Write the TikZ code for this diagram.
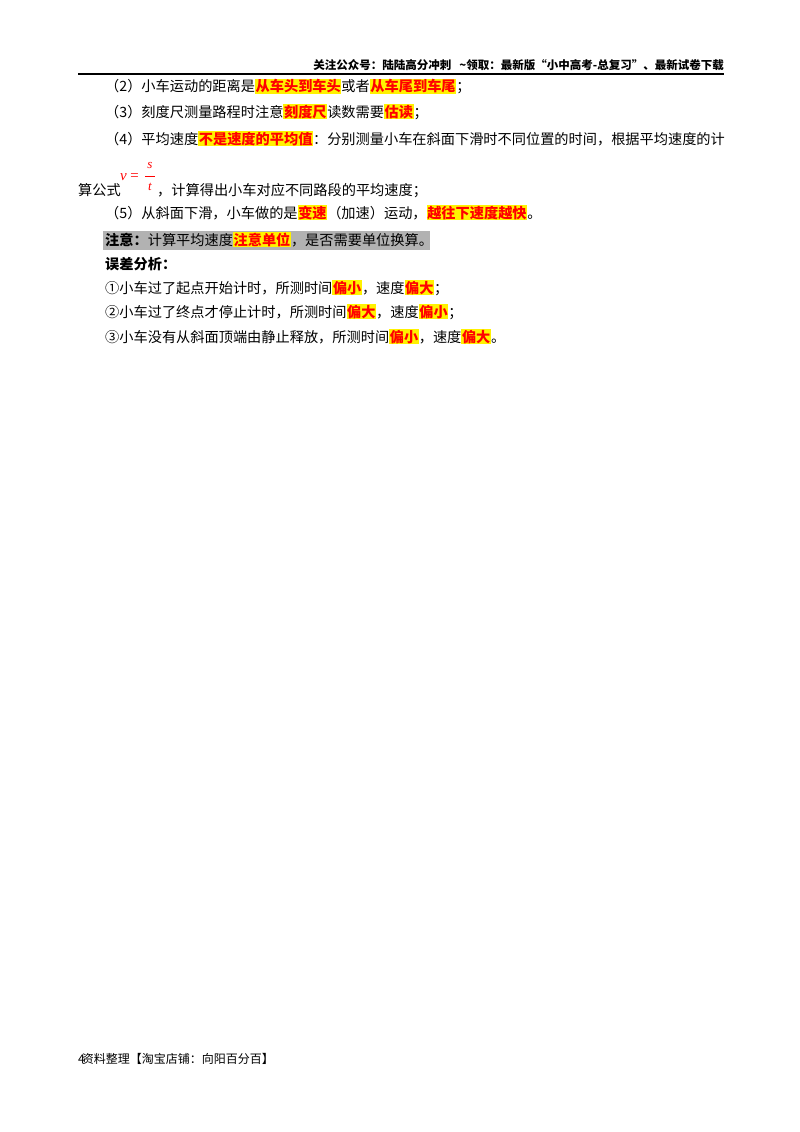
\documentclass[tikz,border=0pt]{standalone}
\usepackage{fontspec}
\setmainfont{Noto Sans CJK SC}
\newfontfamily\mathserif{Liberation Serif}
\tikzset{ln/.style={anchor=base west,inner sep=0pt,font=\fontsize{14.2}{16}\selectfont}}
\newcommand{\hlr}[1]{{\setlength{\fboxsep}{0.6pt}\colorbox{yellow}{\textcolor{red}{\bfseries #1}}}}
\begin{document}
\begin{tikzpicture}[x=1pt,y=-1pt]
\useasboundingbox (0,0) rectangle (800,1132);
\node[anchor=base east,inner sep=0pt,font=\fontsize{11.5}{13}\selectfont\bfseries] (hd) at (724,70) {关注公众号：陆陆高分冲刺\ \ \ \textasciitilde 领取：最新版“小中高考-总复习”、最新试卷下载};
\draw[line width=1.6pt] (78,74) -- (724,74);
\node[ln] (l2) at (105,92) {（2）小车运动的距离是\hlr{从车头到车头}或者\hlr{从车尾到车尾}；};
\node[ln] (l3) at (105,117) {（3）刻度尺测量路程时注意\hlr{刻度尺}读数需要\hlr{估读}；};
\node[ln] (l4) at (105,144) {（4）平均速度\hlr{不是速度的平均值}：分别测量小车在斜面下滑时不同位置的时间，根据平均速度的计};
\node[ln] (l4b) at (78,195) {算公式};
\node[anchor=base west,inner sep=0pt,text=red,font=\mathserif\itshape\fontsize{15}{16}\selectfont] (f) at (120,180) {v\,=};
\node[anchor=base,inner sep=0pt,text=red,font=\mathserif\itshape\fontsize{13}{15}\selectfont] (fs) at (150,168) {s};
\draw[red,line width=0.6pt] (145,176) -- (155,176);
\node[anchor=base,inner sep=0pt,text=red,font=\mathserif\itshape\fontsize{13}{15}\selectfont] (ft) at (150,190) {t};
\node[ln] (l4c) at (157,195) {，计算得出小车对应不同路段的平均速度；};
\node[ln] (l5) at (105,218) {（5）从斜面下滑，小车做的是\hlr{变速}（加速）运动，\hlr{越往下速度越快}。};
\fill[black!30] (103,231) rectangle (430,250);
\node[ln] (l6) at (105,245) {\textbf{注意：}计算平均速度\hlr{注意单位}，是否需要单位换算。};
\node[ln] (l7) at (105,269) {\textbf{误差分析：}};
\node[ln] (e1) at (105,293) {①小车过了起点开始计时，所测时间\hlr{偏小}，速度\hlr{偏大}；};
\node[ln] (e2) at (105,317) {②小车过了终点才停止计时，所测时间\hlr{偏大}，速度\hlr{偏小}；};
\node[ln] (e3) at (105,342) {③小车没有从斜面顶端由静止释放，所测时间\hlr{偏小}，速度\hlr{偏大}。};
\node[anchor=base west,inner sep=0pt,font=\fontsize{12}{14}\selectfont] (ft1) at (78,1063) {4\hspace{-3pt}资料整理【淘宝店铺：向阳百分百】};
\end{tikzpicture}
\end{document}
